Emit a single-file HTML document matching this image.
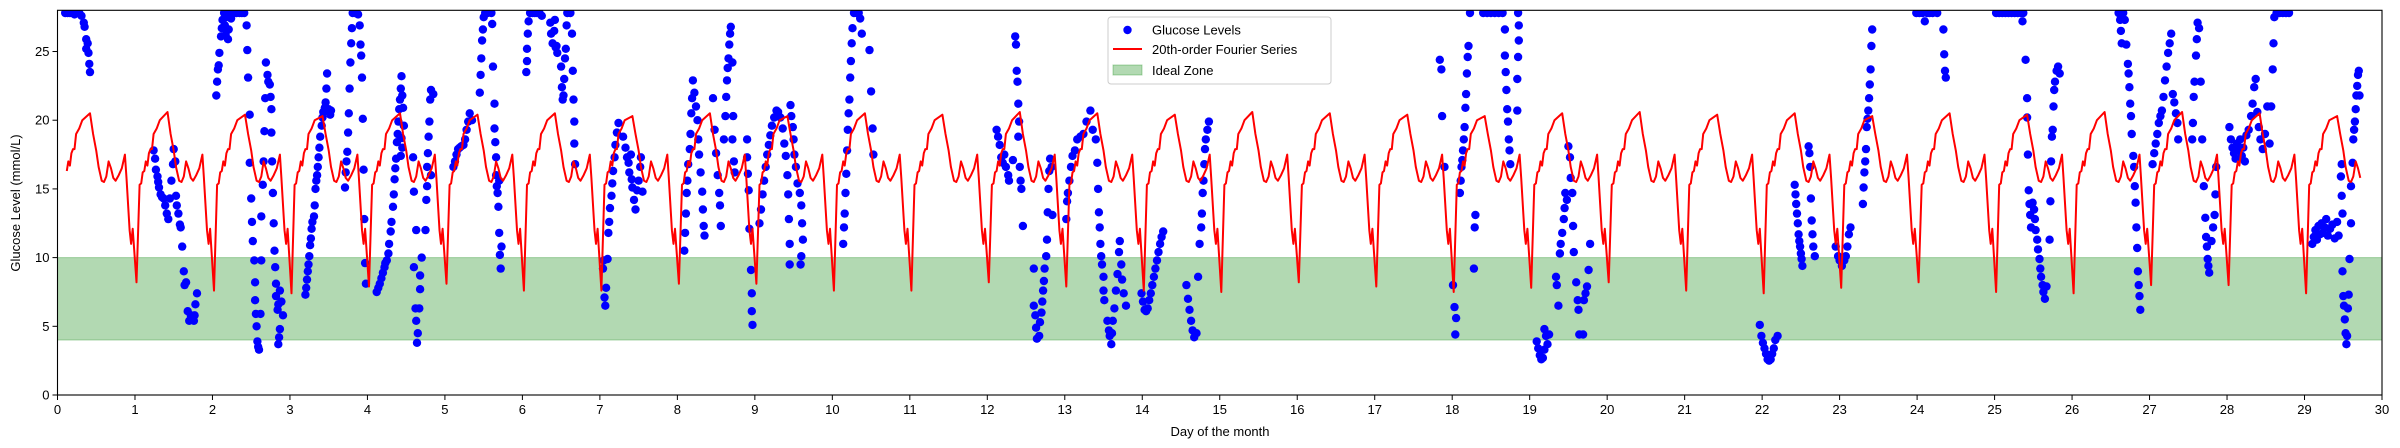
<!DOCTYPE html>
<html><head><meta charset="utf-8">
<style>
html,body{margin:0;padding:0;background:#fff;}
svg{display:block;font-family:"Liberation Sans","DejaVu Sans",sans-serif;}
</style></head>
<body>
<svg id="chart" width="2400" height="448" viewBox="0 0 2400 448" xmlns="http://www.w3.org/2000/svg">
<g id="plot"></g>
<g id="axes"></g>
<text x="20" y="203" font-size="13" text-anchor="middle" transform="rotate(-90 20 203)">Glucose Level (mmol/L)</text>
<text x="1220" y="436" font-size="13" text-anchor="middle">Day of the month</text>
<g>
<rect x="1108" y="17" width="223" height="67" rx="3" fill="#fff" fill-opacity="0.8" stroke="#ccc" stroke-width="1"/>
<circle cx="1127.5" cy="30" r="4.2" fill="#0000ff"/>
<text x="1152" y="34.5" font-size="13">Glucose Levels</text>
<line x1="1113" y1="49" x2="1142" y2="49" stroke="#ff0000" stroke-width="2"/>
<text x="1152" y="54" font-size="13">20th-order Fourier Series</text>
<rect x="1113" y="65" width="29" height="10" fill="#008000" fill-opacity="0.3" stroke="#008000" stroke-opacity="0.3"/>
<text x="1152" y="75" font-size="13">Ideal Zone</text>
</g>
</svg>
<script>
// ---- data ----
const xTicks = [0,1,2,3,4,5,6,7,8,9,10,11,12,13,14,15,16,17,18,19,20,21,22,23,24,25,26,27,28,29,30];
const yTicks = [0,5,10,15,20,25];
const idealZone = [4,10];
// daily shape of the Fourier curve: fraction of day, value (null = per-day dip / peak)
const profileT = [0.02,0.06,0.08,0.10,0.12,0.14,0.16,0.18,0.20,0.22,0.24,0.28,0.32,0.42,0.46,0.50,0.53,0.57,0.60,0.63,0.66,0.69,0.72,0.75,0.79,0.83,0.87,0.89,0.93,0.95,0.97];
const profileV = [null,15.3,15.4,16.2,16.3,17.0,16.7,17.6,17.9,17.9,19.0,19.4,20.0,null,19.0,17.8,16.6,15.6,15.5,15.9,17.0,16.5,15.8,15.6,16.0,16.5,17.5,15.8,12.0,11.0,12.1];
const dayDips = [8.2,8.2,7.6,7.4,7.9,8.1,7.6,7.6,8.1,8.1,7.6,7.6,8.2,7.9,7.6,7.5,8.2,7.9,7.5,7.8,8.2,7.6,7.4,7.8,8.2,7.5,7.4,8.0,8.0,7.4];
const dayPeaks = [20.5,20.6,20.4,20.3,20.5,20.4,20.5,20.3,20.5,20.3,20.5,20.4,20.6,20.5,20.4,20.6,20.5,20.4,20.3,20.5,20.6,20.4,20.5,20.3,20.5,20.4,20.6,20.6,20.5,20.3];
const lineStart = 0.12, lineEnd = 29.74;
const glucose = [
[0.10,27.8],[0.13,27.8],[0.16,27.8],[0.19,27.8],[0.22,27.7],[0.25,27.8],[0.28,27.8],[0.31,27.6],[0.34,27.1],[0.35,26.8],[0.37,25.9],[0.37,25.2],[0.39,25.6],[0.40,24.9],[0.41,24.1],[0.42,23.5],
[1.24,17.8],[1.26,17.2],[1.27,16.4],[1.29,15.9],[1.3,15.5],[1.31,15.1],[1.33,14.6],[1.35,14.4],[1.37,14.3],[1.39,13.8],[1.41,13.2],[1.43,12.8],[1.45,14.3],[1.47,15.6],[1.49,16.8],[1.5,17.9],[1.52,17.0],[1.53,14.5],[1.54,13.8],[1.56,13.2],[1.58,12.4],[1.59,12.2],[1.61,10.8],[1.63,9.0],[1.64,8.0],[1.66,8.2],[1.68,6.1],[1.70,5.4],[1.72,5.8],[1.76,5.4],[1.77,5.8],[1.78,6.6],[1.8,7.4],
[2.05,21.8],[2.06,22.8],[2.07,23.7],[2.08,24.0],[2.09,24.9],[2.11,26.1],[2.12,26.7],[2.13,27.3],[2.15,27.8],[2.16,26.9],[2.17,26.2],[2.18,27.5],[2.2,25.9],[2.21,26.6],[2.22,27.8],[2.24,27.4],[2.26,27.8],[2.28,27.8],[2.31,27.8],[2.35,27.8],[2.38,27.8],[2.41,27.8],[2.44,26.9],[2.45,25.1],[2.46,23.1],[2.48,20.4],[2.48,16.9],[2.5,14.3],[2.51,12.6],[2.52,11.2],[2.54,9.8],[2.55,8.2],[2.55,6.9],[2.56,5.9],[2.57,5.0],[2.58,3.9],[2.59,3.5],[2.6,3.3],[2.62,5.9],[2.63,9.8],[2.63,13.0],[2.65,15.3],[2.66,17.0],[2.67,19.2],[2.68,21.6],[2.69,24.2],[2.71,23.3],[2.72,22.8],[2.74,22.6],[2.75,21.7],[2.76,20.8],[2.76,19.1],[2.77,17.0],[2.78,14.7],[2.79,12.5],[2.8,10.5],[2.81,9.3],[2.82,8.1],[2.82,7.2],[2.84,6.2],[2.85,6.6],[2.87,7.6],[2.87,4.8],[2.86,4.2],[2.85,3.7],[2.91,5.8],[2.89,6.8],
[3.2,7.3],[3.21,7.8],[3.22,8.4],[3.23,9.0],[3.24,9.5],[3.25,10.1],[3.26,10.9],[3.27,11.4],[3.28,12.1],[3.29,12.6],[3.31,13.0],[3.32,13.8],[3.33,15.0],[3.34,15.6],[3.35,16.0],[3.36,16.6],[3.37,17.3],[3.38,18.0],[3.39,18.8],[3.41,19.6],[3.42,20.2],[3.43,20.6],[3.45,20.9],[3.46,21.3],[3.47,22.3],[3.48,23.4],[3.5,20.8],[3.52,20.4],[3.53,20.7],
[3.71,15.1],[3.72,16.2],[3.73,17.0],[3.74,17.7],[3.75,19.1],[3.76,20.5],[3.77,22.3],[3.78,24.2],[3.79,25.6],[3.8,26.7],[3.81,27.8],[3.84,27.8],[3.88,27.7],[3.9,26.9],[3.91,25.5],[3.92,24.7],[3.93,23.1],[3.94,20.1],[3.95,16.4],[3.96,12.8],[3.97,9.6],[3.98,8.1],
[4.12,7.5],[4.14,7.8],[4.16,8.1],[4.18,8.5],[4.2,8.9],[4.22,9.3],[4.23,9.6],[4.25,9.8],[4.27,10.3],[4.28,11.0],[4.3,11.9],[4.31,12.6],[4.33,13.7],[4.34,14.6],[4.35,15.7],[4.36,16.5],[4.37,17.2],[4.38,18.4],[4.39,19.0],[4.40,19.9],[4.41,20.8],[4.42,21.5],[4.43,22.3],[4.44,23.2],[4.45,21.8],[4.46,20.9],[4.47,19.6],[4.44,18.7],[4.45,18.0],[4.43,17.4],
[4.59,17.3],[4.6,14.8],[4.63,12.0],[4.6,9.3],[4.62,6.3],[4.63,5.4],[4.64,3.8],[4.65,4.5],[4.67,6.3],[4.68,7.7],[4.7,10.0],[4.68,8.7],
[4.75,12.0],[4.76,14.2],[4.77,15.2],[4.77,16.6],[4.78,17.6],[4.79,18.8],[4.8,19.9],[4.81,21.5],[4.82,22.2],[4.85,21.9],[4.82,16.0],
[5.11,16.6],[5.13,17.0],[5.15,17.5],[5.17,17.9],[5.19,18.0],[5.21,18.1],[5.24,18.2],[5.26,18.6],[5.28,19.3],[5.3,19.9],[5.32,20.5],[5.35,20.0],
[5.45,22.0],[5.46,23.3],[5.47,24.5],[5.48,25.8],[5.49,26.6],[5.5,27.5],[5.52,27.8],[5.55,27.8],
[5.6,27.8],[5.61,27.0],[5.62,23.9],[5.64,21.2],[5.64,19.4],[5.65,18.4],[5.66,17.3],[5.66,16.0],[5.67,15.2],[5.68,14.7],[5.69,13.7],[5.71,10.2],[5.72,9.2],[5.73,10.8],[5.7,15.6],[5.7,11.8],
[6.05,23.5],[6.06,24.3],[6.06,25.2],[6.07,26.3],[6.08,27.2],[6.1,27.8],[6.13,27.8],[6.16,27.8],[6.19,27.8],[6.22,27.8],[6.25,27.6],
[6.36,27.1],[6.37,26.3],[6.39,25.6],[6.41,26.5],[6.42,27.3],[6.43,25.3],[6.45,24.9],[6.44,25.4],
[6.5,23.9],[6.51,22.4],[6.52,21.5],[6.53,21.8],[6.54,23.0],[6.55,24.5],[6.56,25.2],[6.57,26.9],[6.58,27.8],[6.62,27.8],[6.64,26.3],[6.65,23.6],[6.66,21.5],[6.67,19.9],[6.67,18.3],[6.68,16.8],
[7.04,9.2],[7.05,9.8],[7.06,7.1],[7.07,6.5],[7.08,7.8],[7.1,9.9],[7.11,11.8],[7.12,12.6],[7.13,13.6],[7.15,14.5],[7.16,15.4],[7.17,16.3],[7.19,17.3],[7.2,18.2],[7.22,19.1],[7.24,19.8],
[7.3,18.8],[7.33,18.0],[7.35,17.3],[7.37,16.9],[7.38,16.2],[7.4,17.5],[7.41,15.7],[7.42,15.1],[7.44,14.2],[7.46,13.5],[7.48,14.9],[7.5,15.6],[7.52,16.6],[7.53,17.3],[7.55,14.8],
[8.09,10.5],[8.1,11.8],[8.11,13.2],[8.12,14.7],[8.13,15.6],[8.14,16.8],[8.16,17.9],[8.17,19.0],[8.18,20.5],[8.19,21.6],[8.2,22.9],[8.22,22.0],[8.24,21.0],[8.26,20.0],[8.27,18.6],[8.28,17.5],[8.3,16.2],[8.32,14.8],[8.33,13.5],[8.34,12.3],[8.35,11.6],
[8.46,21.6],[8.48,19.3],[8.5,17.6],[8.52,16.0],[8.54,14.7],[8.55,13.8],[8.56,12.3],[8.6,18.6],[8.62,20.3],[8.63,21.7],[8.64,22.9],[8.65,23.8],[8.66,24.5],[8.67,25.5],[8.68,26.3],[8.69,26.8],[8.71,24.2],[8.72,20.3],[8.71,18.6],[8.73,17.0],[8.74,16.2],
[8.9,18.6],[8.9,17.3],[8.91,16.1],[8.92,14.9],[8.93,12.1],[8.95,9.1],[8.96,7.4],[8.96,6.1],[8.97,5.1],
[9.06,12.5],[9.08,13.5],[9.1,14.6],[9.12,15.6],[9.14,16.6],[9.16,17.5],[9.18,18.2],[9.2,18.9],[9.22,19.6],[9.25,20.2],[9.28,20.7],[9.3,20.6],[9.33,20.2],[9.36,19.4],[9.38,18.3],[9.4,17.4],[9.42,16.0],[9.43,14.6],[9.44,12.8],[9.45,11.0],[9.45,9.5],
[9.46,21.1],[9.47,20.3],[9.49,19.5],[9.5,18.6],[9.51,17.5],[9.53,16.6],[9.55,15.4],[9.58,14.7],[9.6,13.8],[9.61,12.5],[9.62,11.3],[9.6,10.1],[9.59,9.5],
[10.14,11.0],[10.15,12.2],[10.16,13.2],[10.17,14.7],[10.18,16.1],[10.19,17.8],[10.2,19.3],[10.21,20.5],[10.22,21.5],[10.23,23.1],[10.24,24.3],[10.25,25.6],[10.26,26.7],[10.28,27.8],[10.31,27.8],[10.34,27.8],[10.36,27.4],[10.38,26.3],[10.48,25.1],[10.5,22.1],[10.52,19.4],[10.53,17.5],
[12.12,19.3],[12.14,18.8],[12.16,18.2],[12.18,17.3],[12.2,16.9],[12.22,17.5],[12.24,16.6],[12.27,16.0],[12.28,15.6],[12.33,17.1],[12.36,26.1],[12.37,25.5],[12.38,23.6],[12.39,22.8],[12.4,21.2],[12.41,19.9],[12.4,18.8],[12.42,16.6],[12.43,15.6],[12.44,15.0],[12.46,12.3],
[12.6,9.2],[12.6,6.5],[12.62,5.8],[12.63,4.9],[12.64,4.1],[12.67,4.3],[12.68,5.3],[12.7,6.0],[12.71,6.8],[12.72,7.6],[12.73,8.3],[12.74,9.2],[12.76,10.1],[12.77,11.3],[12.78,13.3],[12.79,15.0],[12.8,16.3],[12.81,17.2],[12.83,16.6],[12.84,13.1],
[13.02,12.8],[13.03,14.1],[13.04,14.7],[13.06,15.6],[13.08,16.6],[13.1,17.4],[13.13,17.8],[13.16,18.6],[13.2,18.8],[13.24,19.0],[13.28,19.9],[13.33,20.7],[13.36,19.3],[13.4,18.6],[13.42,16.9],[13.43,15.0],[13.44,13.3],[13.45,12.2],[13.46,11.0],[13.47,10.1],[13.48,9.5],[13.5,8.6],[13.5,7.6],[13.51,6.9],
[13.55,5.4],[13.57,4.7],[13.58,4.3],[13.6,3.7],[13.61,4.5],[13.62,5.4],[13.64,6.3],[13.66,7.6],[13.68,8.8],[13.7,10.4],[13.71,11.2],[13.73,9.5],[13.74,8.4],[13.76,7.4],[13.79,6.5],
[13.99,7.4],[14.01,6.8],[14.03,6.2],[14.05,6.1],[14.07,6.3],[14.09,6.9],[14.11,7.4],[14.13,8.0],[14.15,8.6],[14.17,9.2],[14.19,9.8],[14.21,10.4],[14.23,11.0],[14.25,11.5],[14.27,11.9],
[14.57,8.0],[14.59,7.0],[14.61,6.2],[14.63,5.4],[14.65,4.7],[14.67,4.2],[14.7,4.5],[14.72,8.6],[14.74,11.0],[14.76,12.2],[14.77,13.2],[14.78,14.7],[14.79,15.6],[14.8,16.8],[14.81,17.9],[14.82,18.6],[14.84,19.3],[14.86,19.9],
[17.84,24.4],[17.86,23.7],[17.87,20.3],[17.9,16.6],
[18.01,8.0],[18.03,6.4],[18.05,5.6],[18.04,4.4],[18.1,14.7],[18.11,15.6],[18.12,16.6],[18.13,17.1],[18.14,17.8],[18.15,18.6],[18.16,19.5],[18.17,20.9],[18.18,21.9],[18.19,23.4],[18.2,24.6],[18.21,25.4],[18.23,27.8],[18.3,13.1],[18.29,12.2],[18.28,9.2],
[18.4,27.8],[18.45,27.8],[18.5,27.8],[18.55,27.8],[18.6,27.8],[18.65,27.8],[18.68,26.6],[18.68,24.7],[18.69,23.5],[18.7,22.2],[18.71,20.8],[18.72,19.9],[18.73,18.6],[18.74,17.8],[18.75,16.8],[18.85,27.8],[18.86,26.9],[18.86,25.8],[18.85,24.6],[18.84,23.0],[18.84,20.7],
[19.09,3.9],[19.11,3.4],[19.13,2.9],[19.15,2.6],[19.17,2.7],[19.19,3.3],[19.21,4.3],[19.23,3.7],[19.25,4.4],[19.19,4.8],
[19.34,8.6],[19.35,8.0],[19.37,6.5],[19.39,10.3],[19.4,11.0],[19.42,11.8],[19.44,12.8],[19.45,13.6],[19.46,14.7],[19.48,14.2],[19.5,18.1],[19.52,17.3],[19.53,15.8],[19.55,14.7],[19.56,12.3],[19.57,10.4],[19.6,8.2],[19.62,6.9],[19.63,6.2],[19.64,4.4],
[19.7,6.9],[19.72,7.4],[19.74,7.9],[19.76,9.1],[19.78,11.0],[19.69,4.4],
[21.97,5.1],[21.99,4.3],[22.01,3.8],[22.03,3.4],[22.05,3.0],[22.07,2.6],[22.09,2.5],[22.11,2.6],[22.13,3.0],[22.15,3.4],[22.17,4.0],[22.2,4.3],
[22.42,15.3],[22.43,14.6],[22.44,13.9],[22.45,13.2],[22.46,12.5],[22.47,11.7],[22.48,11.2],[22.49,10.8],[22.5,10.3],[22.51,9.9],[22.52,9.4],[22.6,18.1],[22.61,17.6],[22.62,16.6],[22.63,14.3],[22.64,12.7],[22.65,11.7],[22.66,10.8],[22.68,10.1],
[22.95,10.8],[22.98,10.1],[23.0,9.8],[23.03,9.4],[23.06,9.8],[23.08,10.1],[23.1,10.8],[23.12,11.7],[23.14,12.2],
[23.3,13.9],[23.31,15.1],[23.32,16.2],[23.33,17.0],[23.34,17.9],[23.35,19.5],[23.36,20.1],[23.37,20.7],[23.38,21.6],[23.39,22.6],[23.4,23.7],[23.41,25.4],[23.42,26.6],
[23.99,27.8],[24.03,27.8],[24.07,27.8],[24.1,27.2],[24.13,27.8],[24.16,27.8],[24.2,27.8],[24.26,27.8],[24.34,26.6],[24.35,24.8],[24.36,23.6],[24.37,23.1],
[25.02,27.8],[25.06,27.8],[25.1,27.8],[25.14,27.8],[25.18,27.8],[25.22,27.8],[25.26,27.8],[25.3,27.8],[25.34,27.8],[25.37,27.8],
[25.36,27.2],[25.4,24.4],[25.42,21.6],[25.42,20.2],[25.43,17.5],[25.44,14.9],[25.45,13.9],[25.46,13.1],[25.47,12.2],
[25.49,14.0],[25.51,13.5],[25.52,12.8],[25.53,12.0],[25.55,11.3],[25.56,10.6],[25.58,9.9],[25.59,9.2],[25.6,8.6],[25.62,8.0],[25.63,7.5],[25.65,7.0],[25.67,7.9],
[25.71,11.3],[25.72,14.1],[25.73,17.0],[25.74,18.8],[25.75,19.3],[25.76,21.0],[25.77,22.2],[25.78,22.8],[25.8,23.6],[25.82,23.9],[25.84,23.4],
[26.6,27.8],[26.62,27.3],[26.63,26.5],[26.64,25.6],[26.66,27.8],[26.68,27.3],[26.7,25.5],[26.72,24.1],[26.73,23.4],[26.74,22.4],[26.75,21.2],[26.76,20.3],[26.77,19.0],[26.79,17.4],[26.8,16.6],[26.81,15.2],[26.82,14.0],[26.83,12.2],[26.84,10.7],[26.85,9.0],[26.86,8.0],[26.87,7.2],[26.88,6.2],
[27.04,16.8],[27.06,17.6],[27.08,18.3],[27.1,19.0],[27.12,19.8],[27.14,20.3],[27.16,20.7],[27.18,21.7],[27.2,22.9],[27.22,23.9],[27.24,24.9],[27.26,25.6],[27.28,26.3],[27.3,21.9],[27.32,21.3],[27.34,20.5],[27.36,19.8],[27.37,18.6],
[27.55,18.6],[27.56,19.8],[27.57,21.7],[27.58,22.8],[27.6,24.7],[27.61,25.9],[27.62,27.1],[27.64,26.7],[27.66,22.8],[27.68,18.6],[27.7,15.2],[27.72,12.9],[27.73,11.5],[27.74,10.8],[27.75,9.9],[27.76,9.4],[27.77,8.9],[27.8,11.2],[27.82,12.2],[27.84,13.1],[27.85,14.6],[27.86,16.6],
[28.03,19.5],[28.05,18.6],[28.07,18.0],[28.09,17.6],[28.11,17.2],[28.13,18.3],[28.15,17.8],[28.17,18.6],[28.19,17.4],[28.21,18.0],[28.23,17.0],[28.25,18.9],[28.28,19.3],[28.31,20.3],[28.33,21.2],[28.35,22.4],[28.37,23.0],[28.39,20.6],[28.41,19.5],[28.43,18.6],[28.46,17.9],[28.49,19.0],[28.52,21.0],[28.55,18.3],[28.57,21.0],[28.59,23.7],[28.6,25.6],[28.61,27.5],[28.64,27.8],[28.68,27.8],[28.72,27.8],[28.76,27.8],[28.8,27.8],
[29.1,11.0],[29.12,11.5],[29.14,12.0],[29.16,11.3],[29.18,12.3],[29.2,11.7],[29.22,12.5],[29.24,11.8],[29.26,12.2],[29.28,12.8],[29.3,11.6],[29.33,12.1],[29.36,12.4],[29.39,11.4],[29.42,12.6],[29.44,11.6],
[29.47,15.9],[29.48,16.8],[29.48,14.5],[29.49,13.2],[29.49,9.0],[29.5,7.2],[29.51,6.5],[29.52,5.5],[29.53,4.5],[29.54,3.7],[29.55,4.3],[29.56,6.3],[29.57,7.3],[29.58,9.9],[29.6,12.5],
[29.6,15.2],[29.62,16.9],[29.63,18.6],[29.64,19.3],[29.65,19.9],[29.66,20.8],[29.67,21.8],[29.68,22.5],[29.69,23.3],[29.7,23.6],[29.71,21.8]
];

// ---- axes functions ----
const L = 57.5, R = 2382, T = 10.3, B = 395;
const xMin = 0, xMax = 30, yMin = 0, yMax = 28;
const xs = d => L + (d - xMin) / (xMax - xMin) * (R - L);
const ys = v => B - (v - yMin) / (yMax - yMin) * (B - T);
const NS = "http://www.w3.org/2000/svg";
function mk(tag, attrs, parent) {
  const e = document.createElementNS(NS, tag);
  for (const k in attrs) e.setAttribute(k, attrs[k]);
  parent.appendChild(e);
  return e;
}
const plot = document.getElementById('plot');
const axes = document.getElementById('axes');

// clip
const defs = mk('defs', {}, plot);
const cp = mk('clipPath', {id: 'clip'}, defs);
mk('rect', {x: L, y: T, width: R - L, height: B - T}, cp);

// ideal zone
const zone = mk('rect', {x: L, y: ys(idealZone[1]), width: R - L, height: ys(idealZone[0]) - ys(idealZone[1]), fill: '#008000', 'fill-opacity': 0.3, stroke: '#008000', 'stroke-opacity': 0.3}, plot);



// scatter
const sg = mk('g', {'clip-path': 'url(#clip)'}, plot);


glucose.forEach(p => {
  const c = mk('circle', {cx: xs(p[0]).toFixed(1), cy: ys(p[1]).toFixed(1), r: 4.2, fill: '#0000ff'}, sg);
  
  
});

// fourier line
const pts = [];
for (let d = 0; d < 30; d++) {
  for (let i = 0; i < profileT.length; i++) {
    const x = d + profileT[i];
    if (x < lineStart || x > lineEnd) continue;
    let v = profileV[i];
    if (i === 0) v = dayDips[d];
    if (v === null) v = dayPeaks[d];
    pts.push(xs(x).toFixed(1) + ',' + ys(v).toFixed(1));
  }
}
const fl = mk('polyline', {points: pts.join(' '), fill: 'none', stroke: '#ff0000', 'stroke-width': 2, 'stroke-linejoin': 'round'}, plot);



// frame
const fr = mk('rect', {x: L, y: T, width: R - L, height: B - T, fill: 'none', stroke: '#000', 'stroke-width': 1.1}, axes);



xTicks.forEach(t => {
  const x = xs(t);
  mk('line', {x1: x, y1: B, x2: x, y2: B + 5, stroke: '#000', 'stroke-width': 1}, axes);
  const tx = mk('text', {x: x, y: B + 19, 'font-size': 13, 'text-anchor': 'middle'}, axes);
  tx.textContent = t;
  
  
});
yTicks.forEach(t => {
  const y = ys(t);
  mk('line', {x1: L - 5, y1: y, x2: L, y2: y, stroke: '#000', 'stroke-width': 1}, axes);
  const tx = mk('text', {x: L - 8, y: y + 4.5, 'font-size': 13, 'text-anchor': 'end'}, axes);
  tx.textContent = t;
  
  
});
</script>
</body></html>
